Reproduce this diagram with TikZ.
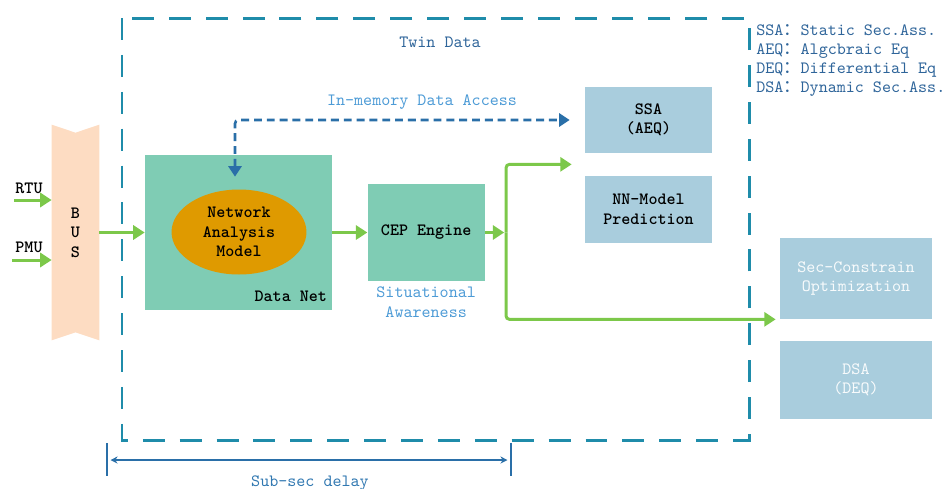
\documentclass[tikz,border=0pt]{standalone}
\usepackage{fontspec}
\newfontfamily\cjk{Noto Sans CJK SC}
\usepackage{xcolor}
\usepackage{tikz}
\usetikzlibrary{
  positioning,
  calc,
  arrows.meta,
  backgrounds,
  shapes.geometric,
}
\definecolor{twin}{HTML}{1F8CAA}
\definecolor{netgreen}{HTML}{7FCCB4}
\definecolor{modelorange}{HTML}{DF9A00}
\definecolor{resultblue}{HTML}{A9CDDD}
\definecolor{flowgreen}{HTML}{7CC84A}
\definecolor{buspeach}{HTML}{FDDCC2}
\definecolor{linkblue}{HTML}{2A6FA8}
\definecolor{lightblue}{HTML}{4D9BD6}
\definecolor{darkblue}{HTML}{2F659A}
\tikzset{
  meta box/.style={
    inner sep=0pt,
    align=center,
    font=\ttfamily\bfseries\fontsize{9.8}{11}\selectfont
  },
  net box/.style={
    meta box,
    rectangle,
    fill=netgreen
  },
  result box/.style={
    meta box,
    rectangle,
    fill=resultblue,
    minimum width=2.54cm
  },
  outer box/.style={
    result box,
    text=white!92!resultblue,
    font=\ttfamily\fontsize{9.8}{11}\selectfont,
    minimum width=3.04cm
  },
  model/.style={
    meta box,
    ellipse,
    fill=modelorange,
    minimum width=2.7cm,
    minimum height=1.7cm
  },
  mono text/.style={
    meta box
  },
  blue text/.style={
    inner sep=0pt,
    align=center,
    text=lightblue,
    font=\ttfamily\fontsize{9.8}{11.2}\selectfont
  },
  flow/.style={
    draw=flowgreen,
    line width=1.7pt,
    rounded corners=2pt,
    -{Triangle[length=6.5pt, width=8pt]}
  },
  data link/.style={
    draw=linkblue,
    line width=1.5pt,
    dash pattern=on 4.5pt off 2.8pt,
    rounded corners=2pt,
    {Triangle[length=6pt, width=7.5pt]}-{Triangle[length=6pt, width=7.5pt]}
  },
  twin frame/.style={
    draw=twin,
    line width=1.7pt,
    dash pattern=on 12.5pt off 8.5pt
  }
}

\begin{document}
\begin{tikzpicture}[x=0.02cm, y=-0.02cm]
  \useasboundingbox (0,0) rectangle (946,488);

  %% Twin data frame
  \draw[twin frame] (122,18) rectangle (749,440);
  \node[blue text, text=darkblue] (twin) at (440,42) {Twin Data};
  \node[blue text, text=darkblue, align=left, anchor=north west,
        font=\ttfamily\fontsize{9.8}{10.8}\selectfont] (legend) at (756,24)
    {SSA{\cjk ：}Static Sec.Ass.\\AEQ{\cjk ：}Algcbraic Eq\\DEQ{\cjk ：}Differential Eq\\DSA{\cjk ：}Dynamic Sec.Ass.};

  %% Bus
  \node[mono text, minimum width=0.94cm, minimum height=4.3cm,
        font=\ttfamily\bfseries\fontsize{9.8}{11}\selectfont] (bus) at (75.5,232.5) {B\\U\\S};
  \begin{scope}[on background layer]
    \fill[buspeach] (bus.north west) -- ($(bus.north)+(0,8)$) -- (bus.north east)
      -- (bus.south east) -- ($(bus.south)+(0,-8)$) -- (bus.south west) -- cycle;
  \end{scope}
  \coordinate (rtu in) at (14,200);
  \coordinate (pmu in) at (12,260);
  \node[mono text] (rtu) at (29,188) {RTU};
  \node[mono text] (pmu) at (29,247) {PMU};
  \draw[flow] (rtu in) -- (rtu in -| bus.west);
  \draw[flow] (pmu in) -- (pmu in -| bus.west);

  %% Data net
  \node[net box, minimum width=3.74cm, minimum height=3.1cm] (datanet) at (238.5,232.5) {};
  \node[model] (model) at (239,232) {Network\\Analysis\\Model};
  \node[mono text, anchor=south east] (datanet label) at ([shift={(-5,-8)}]datanet.south east) {Data Net};
  \node[net box, minimum width=2.34cm, minimum height=1.94cm, right=0.7cm of datanet] (cep) {CEP Engine};
  \node[blue text, below=0.1cm of cep] (aware) {Situational\\Awareness};

  \draw[flow] (bus) -- (datanet);
  \draw[flow] (datanet) -- (cep);

  %% Results
  \node[result box, minimum height=1.32cm] (ssa) at (648.5,120) {SSA\\(AEQ)};
  \node[result box, minimum height=1.34cm, below=0.44cm of ssa] (nn) {NN-Model\\Prediction};
  \node[outer box, minimum height=1.62cm] (sec) at (856,278.5) {Sec-Constrain\\Optimization};
  \node[outer box, minimum height=1.56cm, below=0.42cm of sec] (dsa) {DSA\\(DEQ)};

  \coordinate (split) at ($(cep.east)+(21,0)$);
  \coordinate (ssa in) at ($(ssa.south west)!0.5!(nn.north west)$);
  \draw[flow, shorten >=1pt] (cep) -- (split);
  \draw[flow, shorten >=0.26cm] (split) |- (ssa in);
  \draw[flow, shorten >=0.08cm] (split) |- (sec.south west);

  %% In-memory access
  \draw[data link, shorten >=0.3cm] ([shift={(-3.5,22)}]datanet.north) |- (ssa.west);
  \node[blue text] (access) at (422,102) {In-memory Data Access};

  %% Delay
  \coordinate (delay l) at (107,460);
  \coordinate (delay r) at (511,460);
  \draw[linkblue, line width=1.4pt] (delay l) ++(0,-17) -- ++(0,33);
  \draw[linkblue, line width=1.4pt] (delay r) ++(0,-17) -- ++(0,33);
  \draw[linkblue, line width=0.8pt, shorten <=2pt, shorten >=2pt,
        {Stealth[length=4pt, width=4pt]}-{Stealth[length=4pt, width=4pt]}] (delay l) -- (delay r);
  \node[blue text, text=linkblue!80!lightblue] (delay) at (310,483) {Sub-sec delay};
\end{tikzpicture}
\end{document}
